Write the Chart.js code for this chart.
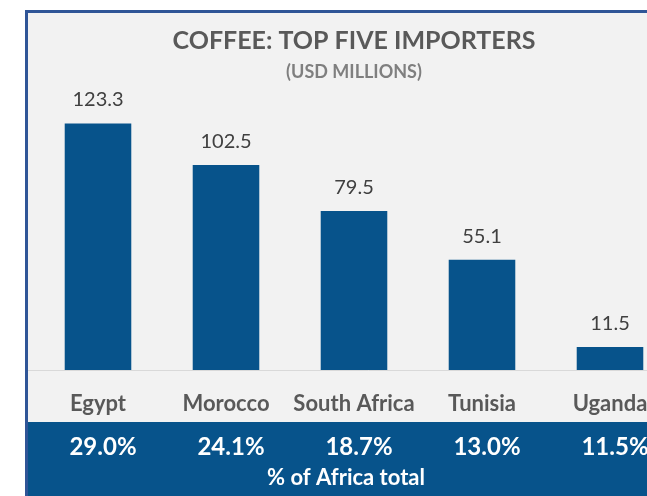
<!DOCTYPE html>
<html>
<head>
<meta charset="utf-8">
<script src="https://cdn.jsdelivr.net/npm/chart.js@4.4.0/dist/chart.umd.min.js"></script>
<style>
    html, body { margin: 0; padding: 0; background: #ffffff; overflow: hidden; }
    #panel {
        position: absolute; left: 25px; top: 10px; width: 720px; height: 520px;
        background: #f2f2f2; border-left: 3px solid #2f5597; border-top: 3px solid #2f5597;
    }
    #importers { position: absolute; left: 0; top: 0; }
</style>
</head>
<body>
<div id="panel"></div>
<canvas id="importers" width="709" height="496"></canvas>
<script>
const countries = ['Egypt', 'Morocco', 'South Africa', 'Tunisia', 'Uganda'];
const imports = [123.3, 102.5, 79.5, 55.1, 11.5];
const shares = ['29.0%', '24.1%', '18.7%', '13.0%', '11.5%'];

const barBlue = '#07538b';
const fontName = 'Lato, "Open Sans", sans-serif';

// value over each bar, share row in the blue band underneath
const annotations = {
    id: 'annotations',
    beforeDraw(chart) {
        const ctx = chart.ctx;
        const area = chart.chartArea;
        ctx.save();
        ctx.fillStyle = barBlue;
        ctx.fillRect(28, 422, chart.width - 28, chart.height - 422);
        ctx.strokeStyle = '#d9d9d9';
        ctx.lineWidth = 1;
        ctx.beginPath();
        ctx.moveTo(28, area.bottom + 0.5);
        ctx.lineTo(chart.width, area.bottom + 0.5);
        ctx.stroke();
        ctx.restore();
    },
    afterDatasetsDraw(chart) {
        const ctx = chart.ctx;
        const bars = chart.getDatasetMeta(0).data;
        ctx.save();
        ctx.textAlign = 'center';
        ctx.textBaseline = 'alphabetic';
        ctx.fillStyle = '#404040';
        ctx.font = '20px ' + fontName;
        bars.forEach((bar, i) => {
            ctx.fillText(imports[i].toFixed(1), bar.x, bar.y - 17);
        });

        ctx.fillStyle = '#ffffff';
        ctx.font = 'bold 24px ' + fontName;
        bars.forEach((bar, i) => {
            ctx.fillText(shares[i], bar.x + 5, 455);
        });
        ctx.font = 'bold 22px ' + fontName;
        ctx.fillText('% of Africa total', 346, 485);
        ctx.restore();
    }
};

new Chart(document.getElementById('importers'), {
    type: 'bar',
    data: {
        labels: countries,
        datasets: [{
            data: imports,
            backgroundColor: barBlue,
            categoryPercentage: 1,
            barPercentage: 0.52
        }]
    },
    options: {
        responsive: false,
        animation: false,
        layout: { padding: { left: 34, right: 35, top: 0, bottom: 0 } },
        plugins: {
            legend: { display: false },
            tooltip: { enabled: false },
            title: {
                display: true,
                text: 'COFFEE: TOP FIVE IMPORTERS',
                color: '#595959',
                font: { family: fontName, size: 25, weight: 'bold', lineHeight: 1.2 },
                padding: { top: 26, bottom: 3 }
            },
            subtitle: {
                display: true,
                text: '(USD MILLIONS)',
                color: '#7f7f7f',
                font: { family: fontName, size: 18, weight: 'bold', lineHeight: 1.2 },
                padding: { top: 2.2, bottom: 7.2 }
            }
        },
        scales: {
            x: {
                grid: { display: false, drawTicks: false },
                border: { display: false },
                ticks: {
                    color: '#595959',
                    font: { family: fontName, size: 22, weight: 'bold' },
                    padding: 21,
                    maxRotation: 0,
                    autoSkip: false
                },
                afterFit(scale) { scale.height = 126; }
            },
            y: {
                display: false,
                min: 0,
                max: 140
            }
        }
    },
    plugins: [annotations]
});
</script>
</body>
</html>
